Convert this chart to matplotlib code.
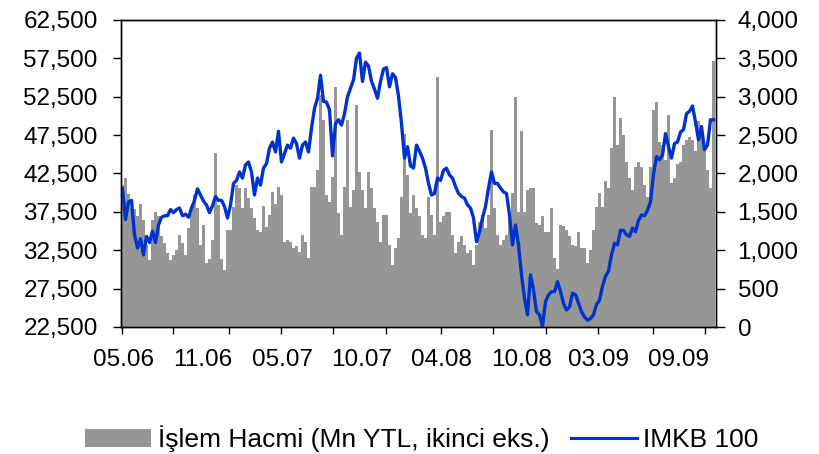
import matplotlib
matplotlib.use("Agg")
import matplotlib.pyplot as plt
from matplotlib.patches import Patch
from matplotlib.lines import Line2D
from matplotlib.ticker import FuncFormatter, FixedLocator
import numpy as np

plt.rcParams['font.family'] = ['Liberation Sans', 'DejaVu Sans']

# Weekly trading volume (Mn YTL, right axis)
volume = [
    1850, 1940, 1730, 1550, 1540, 1450, 1600, 1390, 1070, 870, 1400, 1500, 1450, 1190, 1100, 960, 870,
    940, 1000, 1200, 1100, 940, 1290, 1560, 1720, 1550, 1070, 1330, 830, 890, 1130, 2270, 1590, 890,
    740, 1260, 1260, 1570, 1850, 1810, 1550, 1810, 1680, 1550, 1420, 1260, 1240, 1580, 1300, 1460, 1760,
    1600, 1830, 1720, 1110, 1130, 1110, 1025, 1060, 980, 1200, 1110, 895, 1830, 1830, 2050, 3020, 2700,
    1720, 1630, 1960, 3130, 1480, 1200, 1830, 2700, 1570, 1790, 2890, 2020, 1790, 1550, 2020, 1810, 1550,
    1370, 1110, 1460, 1460, 1070, 810, 1025, 1155, 1700, 2520, 1980, 1480, 1720, 1550, 1450, 1200,
    1160, 1700, 1460, 1200, 3260, 1370, 1440, 1500, 1500, 1200, 960, 1110, 1180, 1070, 960, 1000, 810,
    1070, 1370, 1460, 1290, 1460, 2570, 1550, 1200, 1070, 1130, 1200, 1390, 1740, 3000, 1500, 2550,
    1500, 1790, 1810, 1810, 1350, 1330, 1450, 1240, 1240, 1550, 900, 750, 1330, 1310, 1260, 1180, 1070,
    1050, 1240, 1025, 1025, 830, 1000, 1260, 1570, 1740, 1570, 1900, 1810, 2330, 3000, 2370, 2720,
    2500, 2150, 1940, 1790, 2090, 2150, 2090, 1850, 1700, 2090, 2830, 2930, 2410, 2370, 2180, 2760, 1870,
    1940, 2130, 2150, 2370, 2440, 2480, 2440, 2290, 2680, 2630, 2290, 2050, 1810, 3460,
]

# IMKB 100 index level (left axis)
imkb100 = [
    40500, 36500, 38800, 39000, 34500, 32800, 34000, 31900, 34300, 33500, 35000, 33500, 35800, 36800,
    37000, 37000, 37800, 37400, 37800, 38000, 37000, 37200, 36800, 38000, 39000, 40500, 39700, 38900,
    38400, 37400, 38300, 39500, 39000, 39000,
    38200, 36700, 38400, 41200, 41600, 42700, 41900, 43600, 44000, 42700, 39700, 41900, 41000, 43200,
    43800, 45800, 46600, 45300, 48000, 44000, 45100, 46200, 45800, 47100, 46400, 44500, 46200, 46600,
    45300, 48400, 51000, 52300, 55300, 51900,
    51800, 50800, 44800, 49000, 49500, 48800, 50300, 52500, 53600, 54700, 57500, 58200, 54500, 57000,
    56500, 54500, 53500, 52300, 54500, 56100, 56300, 53800, 55500, 55000, 52600, 49000, 44500, 46000,
    43500, 43200, 46200, 45400, 44500,
    43200, 41200, 39700, 39900, 41900, 41600, 42900, 43200, 42300, 41900, 40800, 39900, 39500, 39300,
    38400, 38000, 36700, 33600, 34900, 36700, 38200, 40600, 42700, 41200, 41200, 40600, 40100, 39900,
    37100, 33200, 35800, 33200, 29300,
    26200, 24100, 29300, 27300, 24500, 24100, 22600, 25800, 26700, 27100, 27100, 28400, 27100, 25600,
    24700, 25100, 26900, 26700, 25600, 24500, 23800, 23400, 23600, 24100, 25400, 26000, 27800, 29100,
    29800, 31900, 33400, 33200, 35100,
    35100, 34500, 34300, 35400, 34900, 36400, 37100, 37000, 37700, 38800, 42400, 44700, 44300, 44900,
    47700, 46000, 44500, 46400, 46600, 47900, 48200, 50300, 50600, 51300, 49200, 46900, 48600, 45600,
    46200, 49500, 49500,
]

month_labels = ['05.06', '11.06', '05.07', '10.07', '04.08', '10.08', '03.09', '09.09']
label_weeks = [0.8, 27.1, 53.9, 80.1, 106.8, 133.4, 159.3, 185.7]
tick_weeks = [0.23, 17.4, 35.9, 53.3, 70.8, 88.3, 106.7, 124.1, 141.6, 159.1, 177.4, 194.7]

BAR_COLOR = '#969696'
LINE_COLOR = '#0033cc'
FS = 17.5

fig = plt.figure(figsize=(8.19, 4.54), dpi=100)
ax = fig.add_axes([121 / 819, (454 - 327) / 454, (716 - 121) / 819, (327 - 20) / 454])
ax2 = ax.twinx()

x = np.arange(len(volume)) + 0.5
ax2.bar(x, volume, width=1.0, color=BAR_COLOR, linewidth=0, antialiased=False)
ax.plot(np.arange(len(imkb100)) + 0.5, imkb100, color=LINE_COLOR, lw=2.4, solid_joinstyle='round')

ax.set_zorder(ax2.get_zorder() + 1)
ax.patch.set_visible(False)

ax.set_xlim(0, 198.33)
ax.set_ylim(22500, 62500)
ax2.set_ylim(0, 4000)

comma = FuncFormatter(lambda v, p: f'{v:,.0f}')
ax.set_yticks(np.arange(22500, 62501, 5000))
ax.yaxis.set_major_formatter(comma)
ax2.set_yticks(np.arange(0, 4001, 500))
ax2.yaxis.set_major_formatter(comma)

ax.xaxis.set_major_locator(FixedLocator(tick_weeks))
ax.set_xticklabels([])
ax.set_xticks(label_weeks, minor=True)
ax.set_xticklabels(month_labels, minor=True)

ax.tick_params(axis='y', direction='out', length=5.8, width=1, pad=11, labelsize=FS, colors='black')
ax2.tick_params(axis='y', direction='out', length=6.5, width=1, pad=9, labelsize=FS, colors='black')
ax.tick_params(axis='x', which='major', direction='out', length=5, width=1)
ax.tick_params(axis='x', which='minor', length=0, pad=16, labelsize=FS)

for a in (ax, ax2):
    for s in a.spines.values():
        s.set_color('black')
        s.set_linewidth(1.0)

handles = [Patch(facecolor=BAR_COLOR, edgecolor='none'),
           Line2D([0], [0], color=LINE_COLOR, lw=2.2)]
fig.legend(handles, ['İşlem Hacmi (Mn YTL, ikinci eks.)', 'IMKB 100'],
           loc='center', bbox_to_anchor=(422 / 819, 1 - 439 / 454), ncol=2, frameon=False,
           fontsize=19, handlelength=2.5, handletextpad=0.25, columnspacing=0.8,
           handleheight=0.65)

fig.savefig('out.png', dpi=100)
